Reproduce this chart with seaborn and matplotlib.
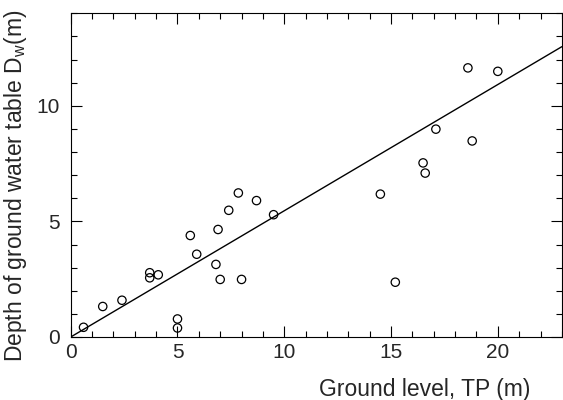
import numpy as np
import matplotlib
matplotlib.use("Agg")
import matplotlib.pyplot as plt
import seaborn as sns
import pandas as pd
from matplotlib.ticker import MultipleLocator

# Values
ground_level = [0.6, 1.5, 2.4, 3.7, 3.7, 4.1, 5.0, 5.0, 5.6, 5.9, 6.8, 6.9, 7.0,
                7.4, 7.85, 8.0, 8.7, 9.5, 14.5, 15.2, 16.5, 16.6, 17.1, 18.6, 18.8, 20.0]
depth = [0.42, 1.32, 1.59, 2.78, 2.56, 2.69, 0.78, 0.39, 4.39, 3.58, 3.14, 4.65, 2.49,
         5.48, 6.23, 2.49, 5.9, 5.29, 6.18, 2.37, 7.53, 7.09, 8.99, 11.64, 8.48, 11.49]
fit_slope = 0.546
fit_x = [0, 23]

data = pd.DataFrame({"x": ground_level, "y": depth})
line = pd.DataFrame({"x": fit_x, "y": [fit_slope * v for v in fit_x]})

sns.set_style("ticks")
plt.rcParams['font.family'] = ['Liberation Sans', 'DejaVu Sans']
plt.rcParams['mathtext.fontset'] = 'custom'
plt.rcParams['mathtext.rm'] = 'Liberation Sans'
plt.rcParams['mathtext.it'] = 'Liberation Sans'

fig = plt.figure(figsize=(5.63, 4.0), dpi=100)
ax = fig.add_axes([0.1256, 0.1575, 0.8724, 0.8092])

sns.lineplot(data=line, x="x", y="y", color="black", linewidth=1.0, ax=ax)
sns.scatterplot(data=data, x="x", y="y", marker="o", s=36, facecolor="none",
                edgecolor="black", linewidth=0.9, ax=ax, zorder=3)

ax.set_xlim(0, 23)
ax.set_ylim(0, 14)
ax.xaxis.set_major_locator(MultipleLocator(5))
ax.xaxis.set_minor_locator(MultipleLocator(1))
ax.yaxis.set_major_locator(MultipleLocator(5))
ax.yaxis.set_minor_locator(MultipleLocator(1))
ax.tick_params(which="both", direction="in", top=True, right=True,
               color="black", width=0.8, labelsize=15)
ax.tick_params(axis="x", pad=4)
ax.tick_params(axis="y", pad=8)
ax.tick_params(which="major", length=8)
ax.tick_params(which="minor", length=4)
for s in ax.spines.values():
    s.set_linewidth(0.8)
    s.set_color("black")

ax.set_xlabel("Ground level, TP (m)", fontsize=16.5, loc="right")
ax.xaxis.set_label_coords(0.935, -0.127)
ax.set_ylabel(r"Depth of ground water table D$_\mathregular{w}$(m)", fontsize=16.5)
ax.yaxis.set_label_coords(-0.085, 0.466)

fig.savefig("out.png", dpi=100)
